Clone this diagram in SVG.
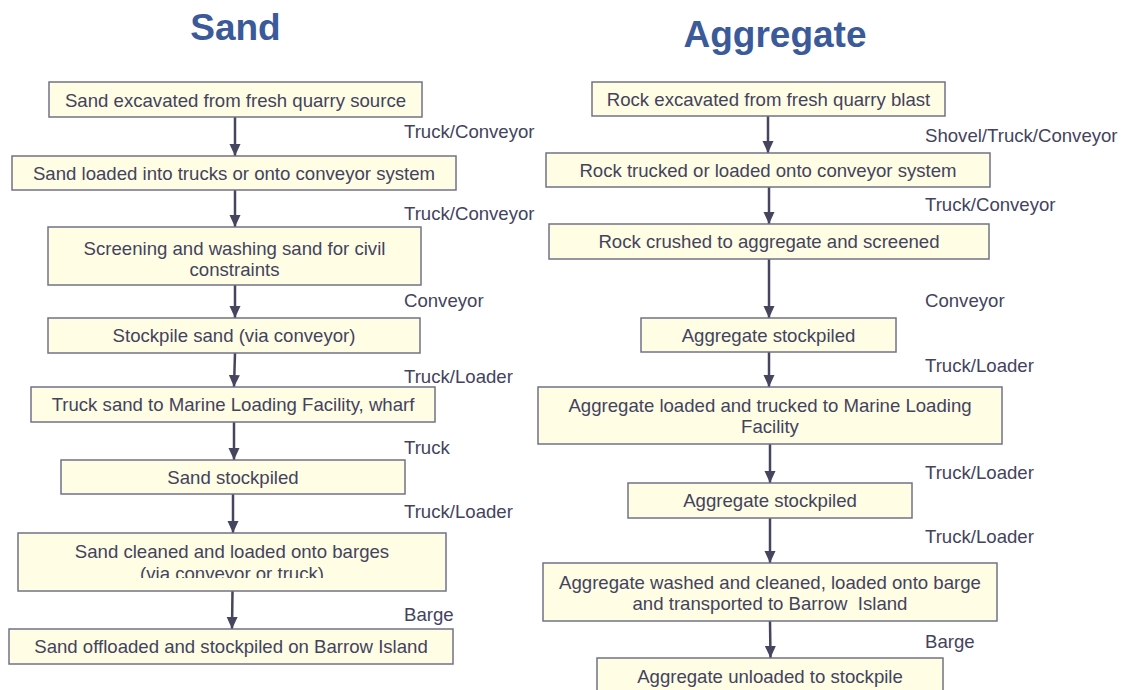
<svg xmlns="http://www.w3.org/2000/svg" width="1125" height="690" viewBox="0 0 1125 690">
<style>
.title{font-family:"Liberation Sans",Arial,sans-serif;font-weight:bold;font-size:37px;fill:#3A5A9A;text-anchor:middle}
.box{fill:#FFFDE4;stroke:#72728A;stroke-width:1.5}
.t{font-family:"Liberation Sans",Arial,sans-serif;font-size:18.6px;fill:#43435E;text-anchor:middle}
.lbl{font-family:"Liberation Sans",Arial,sans-serif;font-size:18.6px;fill:#43435E}
.conn{stroke:#45455F;stroke-width:2.5;fill:none;marker-end:url(#ah)}
</style>
<defs>
<marker id="ah" markerUnits="userSpaceOnUse" markerWidth="12" markerHeight="12" viewBox="0 0 12 12" refX="12" refY="6" orient="auto">
<path d="M0,0.5 L12,6 L0,11.5 Z" fill="#45455F"/>
</marker>
<clipPath id="c7"><rect x="18" y="533" width="428" height="45"/></clipPath>
</defs>
<rect width="1125" height="690" fill="#FFFFFF"/>
<text class="title" x="235.5" y="40">Sand</text>
<text class="title" x="775" y="47">Aggregate</text>

<g id="connectors">
<line class="conn" x1="235" y1="117" x2="235" y2="156"/>
<line class="conn" x1="235" y1="190" x2="235" y2="227"/>
<line class="conn" x1="235" y1="285" x2="235" y2="318"/>
<line class="conn" x1="235" y1="353" x2="234" y2="387"/>
<line class="conn" x1="234" y1="422" x2="234" y2="460"/>
<line class="conn" x1="233" y1="494" x2="233" y2="533"/>
<line class="conn" x1="232.5" y1="591" x2="232" y2="629"/>
<line class="conn" x1="768" y1="116" x2="768" y2="153"/>
<line class="conn" x1="769" y1="187" x2="769" y2="224"/>
<line class="conn" x1="769" y1="259" x2="769" y2="318"/>
<line class="conn" x1="769" y1="352" x2="769" y2="387"/>
<line class="conn" x1="770" y1="444" x2="770" y2="483"/>
<line class="conn" x1="770" y1="518" x2="770" y2="563"/>
<line class="conn" x1="770" y1="621" x2="770.5" y2="658"/>
<text class="lbl" x="404" y="138">Truck/Conveyor</text>
<text class="lbl" x="404" y="220">Truck/Conveyor</text>
<text class="lbl" x="404" y="307">Conveyor</text>
<text class="lbl" x="404" y="383">Truck/Loader</text>
<text class="lbl" x="404" y="454">Truck</text>
<text class="lbl" x="404" y="518">Truck/Loader</text>
<text class="lbl" x="404" y="621">Barge</text>
<text class="lbl" x="925" y="142">Shovel/Truck/Conveyor</text>
<text class="lbl" x="925" y="211">Truck/Conveyor</text>
<text class="lbl" x="925" y="307">Conveyor</text>
<text class="lbl" x="925" y="372">Truck/Loader</text>
<text class="lbl" x="925" y="479">Truck/Loader</text>
<text class="lbl" x="925" y="543">Truck/Loader</text>
<text class="lbl" x="925" y="648">Barge</text>
</g>

<g id="s1"><rect class="box" x="49" y="82" width="373" height="35"/><text class="t" x="235.5" y="107">Sand excavated from fresh quarry source</text></g>
<g id="s2"><rect class="box" x="12" y="156" width="444" height="34"/><text class="t" x="234" y="180">Sand loaded into trucks or onto conveyor system</text></g>
<g id="s3"><rect class="box" x="48" y="227" width="373" height="58"/><text class="t" x="234.5" y="254.5">Screening and washing sand for civil</text><text class="t" x="234.5" y="275.5">constraints</text></g>
<g id="s4"><rect class="box" x="48" y="318" width="372" height="35"/><text class="t" x="234" y="342">Stockpile sand (via conveyor)</text></g>
<g id="s5"><rect class="box" x="31" y="387" width="404" height="35"/><text class="t" x="233" y="411">Truck sand to Marine Loading Facility, wharf</text></g>
<g id="s6"><rect class="box" x="61" y="460" width="344" height="34"/><text class="t" x="233" y="484">Sand stockpiled</text></g>
<g id="s7"><rect class="box" x="18" y="533" width="428" height="58"/><text class="t" x="232" y="558">Sand cleaned and loaded onto barges</text><text class="t" x="232" y="579.5" clip-path="url(#c7)">(via conveyor or truck)</text></g>
<g id="s8"><rect class="box" x="9" y="629" width="444" height="35"/><text class="t" x="231" y="653">Sand offloaded and stockpiled on Barrow Island</text></g>

<g id="a1"><rect class="box" x="592" y="82" width="353" height="34"/><text class="t" x="768.5" y="106">Rock excavated from fresh quarry blast</text></g>
<g id="a2"><rect class="box" x="546" y="153" width="444" height="34"/><text class="t" x="768" y="177">Rock trucked or loaded onto conveyor system</text></g>
<g id="a3"><rect class="box" x="549" y="224" width="440" height="35"/><text class="t" x="769" y="248">Rock crushed to aggregate and screened</text></g>
<g id="a4"><rect class="box" x="641" y="318" width="255" height="34"/><text class="t" x="768.5" y="342">Aggregate stockpiled</text></g>
<g id="a5"><rect class="box" x="538" y="387" width="464" height="57"/><text class="t" x="770" y="412">Aggregate loaded and trucked to Marine Loading</text><text class="t" x="770" y="433">Facility</text></g>
<g id="a6"><rect class="box" x="628" y="483" width="284" height="35"/><text class="t" x="770" y="507">Aggregate stockpiled</text></g>
<g id="a7"><rect class="box" x="543" y="563" width="454" height="58"/><text class="t" x="770" y="589">Aggregate washed and cleaned, loaded onto barge</text><text class="t" x="770" y="610" xml:space="preserve">and transported to Barrow  Island</text></g>
<g id="a8"><rect class="box" x="597" y="658" width="346" height="40"/><text class="t" x="770" y="683">Aggregate unloaded to stockpile</text></g>
</svg>
